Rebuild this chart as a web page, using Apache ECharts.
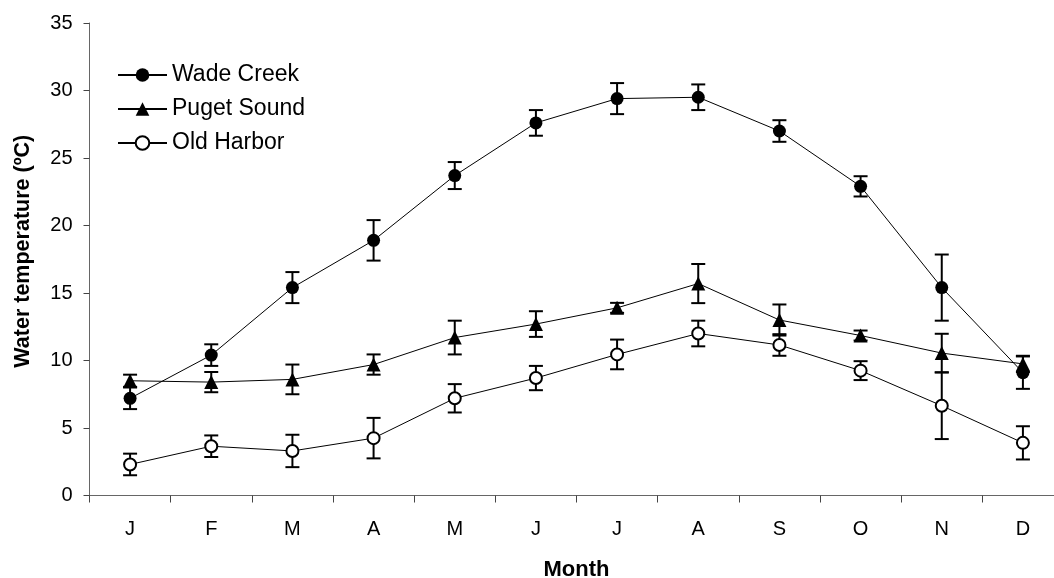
<!DOCTYPE html>
<html>
<head>
<meta charset="utf-8">
<script src="https://cdn.jsdelivr.net/npm/echarts@6/dist/echarts.min.js"></script>
<style>
html,body{margin:0;padding:0;background:#fff;}
#chart{width:1054px;height:578px;}
</style>
</head>
<body>
<div id="chart"></div>
<script>
// Categories and tick labels
const categories = ['Jan','Feb','Mar','Apr','May','Jun','Jul','Aug','Sep','Oct','Nov','Dec'];
const monthLabels = ['J','F','M','A','M','J','J','A','S','O','N','D'];
const yTicks = [0, 5, 10, 15, 20, 25, 30, 35];

// Series means (ºC)
const wadeCreek = [7.2, 10.4, 15.4, 18.9, 23.7, 27.6, 29.4, 29.5, 27.0, 22.9, 15.4, 9.1];
const pugetSound = [8.5, 8.4, 8.6, 9.7, 11.7, 12.7, 13.9, 15.7, 13.0, 11.85, 10.55, 9.75];
const oldHarbor = [2.3, 3.65, 3.3, 4.25, 7.2, 8.7, 10.45, 12.0, 11.15, 9.25, 6.65, 3.9];

// Error bar half-lengths
const wadeCreekErr = [0.8, 0.8, 1.15, 1.5, 1.0, 0.95, 1.15, 0.95, 0.8, 0.75, 2.45, 1.2];
const pugetSoundErr = [0.45, 0.75, 1.1, 0.75, 1.25, 0.95, 0.37, 1.45, 1.15, 0.37, 1.43, 0.6];
const oldHarborErr = [0.8, 0.8, 1.2, 1.5, 1.05, 0.9, 1.1, 0.95, 0.8, 0.7, 2.47, 1.23];

const FONT = "'Liberation Sans', Arial, sans-serif";

function errData(means, errs) {
  return means.map((v, i) => [i, v - errs[i], v + errs[i]]);
}

function renderErr(params, api) {
  const x = api.value(0);
  const pLo = api.coord([x, api.value(1)]);
  const pHi = api.coord([x, api.value(2)]);
  const hw = 7;
  const st = { stroke: '#000', lineWidth: 2 };
  return {
    type: 'group',
    children: [
      { type: 'line', shape: { x1: pLo[0], y1: pLo[1], x2: pHi[0], y2: pHi[1] }, style: st },
      { type: 'line', shape: { x1: pLo[0] - hw, y1: pLo[1], x2: pLo[0] + hw, y2: pLo[1] }, style: st },
      { type: 'line', shape: { x1: pHi[0] - hw, y1: pHi[1], x2: pHi[0] + hw, y2: pHi[1] }, style: st }
    ]
  };
}

function errSeries(means, errs) {
  return {
    type: 'custom',
    renderItem: renderErr,
    data: errData(means, errs),
    encode: { x: 0, y: [1, 2] },
    z: 1,
    silent: true
  };
}

const chart = echarts.init(document.getElementById('chart'), null, { renderer: 'canvas' });

const option = {
  animation: false,
  backgroundColor: '#fff',
  textStyle: { fontFamily: FONT, color: '#000' },
  grid: { left: 89.5, width: 974, top: 23, height: 472.5, containLabel: false, outerBoundsMode: 'none' },
  legend: {
    orient: 'vertical',
    left: 112,
    top: 58.5,
    itemWidth: 49,
    itemHeight: 17,
    itemGap: 11,
    textStyle: { fontFamily: FONT, fontSize: 23, color: '#000', lineHeight: 23 },
    data: ['Wade Creek', 'Puget Sound', 'Old Harbor']
  },
  xAxis: {
    type: 'category',
    data: categories,
    boundaryGap: true,
    name: 'Month',
    nameLocation: 'middle',
    nameGap: 63,
    nameTextStyle: { fontFamily: FONT, fontSize: 22, fontWeight: 'bold', color: '#000' },
    axisLine: { lineStyle: { color: '#666', width: 1 } },
    axisTick: { show: true, length: 7, inside: false, interval: 0, lineStyle: { color: '#444' } },
    axisLabel: {
      interval: 0,
      margin: 24,
      fontFamily: FONT,
      fontSize: 20,
      color: '#000',
      formatter: (v, i) => monthLabels[i]
    },
    splitLine: { show: false }
  },
  yAxis: {
    type: 'value',
    min: yTicks[0],
    max: yTicks[yTicks.length - 1],
    interval: 5,
    name: 'Water temperature (ºC)',
    nameLocation: 'middle',
    nameGap: 55,
    nameRotate: 90,
    nameTextStyle: { fontFamily: FONT, fontSize: 21.5, fontWeight: 'bold', color: '#000', padding: [0, 0, 0, 16] },
    axisLine: { show: true, lineStyle: { color: '#666', width: 1 } },
    axisTick: { show: true, length: 6, inside: false, lineStyle: { color: '#444' } },
    axisLabel: { margin: 17, fontFamily: FONT, fontSize: 20, color: '#000' },
    splitLine: { show: false }
  },
  series: [
    errSeries(wadeCreek, wadeCreekErr),
    errSeries(pugetSound, pugetSoundErr),
    errSeries(oldHarbor, oldHarborErr),
    {
      name: 'Wade Creek',
      type: 'line',
      data: wadeCreek,
      symbol: 'circle',
      symbolSize: 13,
      showAllSymbol: true,
      lineStyle: { color: '#000', width: 1 },
      itemStyle: { color: '#000', borderColor: '#000', borderWidth: 0 },
      z: 3
    },
    {
      name: 'Puget Sound',
      type: 'line',
      data: pugetSound,
      symbol: 'triangle',
      symbolSize: 14,
      showAllSymbol: true,
      lineStyle: { color: '#000', width: 1 },
      itemStyle: { color: '#000', borderColor: '#000', borderWidth: 0 },
      z: 3
    },
    {
      name: 'Old Harbor',
      type: 'line',
      data: oldHarbor,
      symbol: 'circle',
      symbolSize: 12,
      showAllSymbol: true,
      lineStyle: { color: '#000', width: 1 },
      itemStyle: { color: '#fff', borderColor: '#000', borderWidth: 2 },
      z: 3
    }
  ]
};

chart.setOption(option);
</script>
</body>
</html>
